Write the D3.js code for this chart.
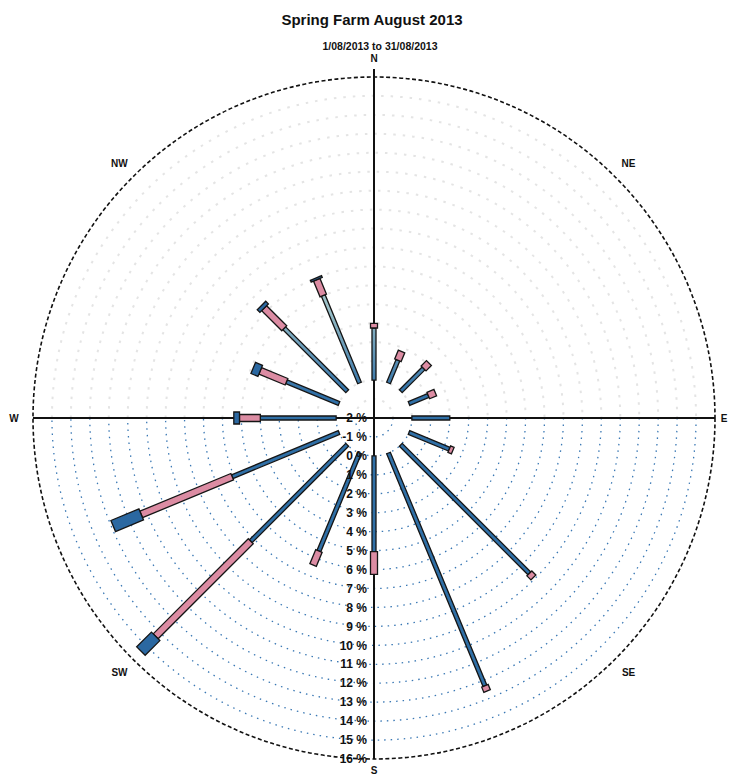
<!DOCTYPE html>
<html>
<head>
<meta charset="utf-8">
<script src="https://cdn.jsdelivr.net/npm/d3@7"></script>
<style>
  body { margin: 0; background: #fff; }
  text { font-family: "Liberation Sans", Arial, sans-serif; font-weight: bold; fill: #111; }
</style>
</head>
<body>
<svg></svg>
<script>
// wind directions, 22.5 degrees apart, clockwise from north
const directions = ["N", "NNE", "NE", "ENE", "E", "ESE", "SE", "SSE",
                    "S", "SSW", "SW", "WSW", "W", "WNW", "NW", "NNW"];
// frequency (%) of each speed class per direction
const speedClass1 = [2.75, 1.3, 1.7, 1.1, 2.0, 2.3, 9.6, 13.3, 5.05, 5.6, 7.2, 6.1, 4.0, 3.0, 4.7, 5.0];
const speedClass2 = [0.25, 0.5, 0.4, 0.4, 0, 0.2, 0.3, 0.3, 1.2, 0.8, 7.1, 5.2, 1.1, 1.5, 1.5, 0.9];
const speedClass3 = [0, 0, 0, 0, 0, 0, 0, 0, 0, 0, 1.1, 1.6, 0.3, 0.4, 0.2, 0.1];
const classNames = ["c1", "c2", "c3"];

const ringTicks = d3.range(-2, 17);           // -2 % .. 16 %
const compassLabels = ["N", "NE", "E", "SE", "S", "SW", "W", "NW"];

const svgWidth = 732;
const svgHeight = 780;
const cx = 374;
const cy = 418;
const outerR = 341;

const svg = d3.select("svg")
  .attr("width", svgWidth)
  .attr("height", svgHeight);

const rScale = d3.scaleLinear().domain([-2, 16]).range([0, outerR]);
const angle = d3.scalePoint().domain(directions).range([0, 337.5]);

const g = svg.append("g")
  .attr("transform", "translate(" + cx + "," + cy + ")");

// scanned colours fade towards the top of the page (coords are relative to g)
const grad = svg.append("defs").append("linearGradient")
  .attr("id", "fade")
  .attr("gradientUnits", "userSpaceOnUse")
  .attr("x1", 0).attr("y1", -110)
  .attr("x2", 0).attr("y2", -25);
grad.append("stop").attr("offset", 0).attr("stop-color", "#9cc1c8");
grad.append("stop").attr("offset", 1).attr("stop-color", "#2f6fa6");

const fills = { c1: "url(#fade)", c2: "#dc8ca3", c3: "#2b68a1" };
const widths = { c1: 4, c2: 7, c3: 12 };

svg.append("text")
  .attr("x", 372).attr("y", 25)
  .attr("text-anchor", "middle")
  .style("font-size", "15px")
  .text("Spring Farm August 2013");

svg.append("text")
  .attr("x", 380).attr("y", 50)
  .attr("text-anchor", "middle")
  .style("font-size", "10.5px")
  .text("1/08/2013 to 31/08/2013");

// grid rings: faded grey on top half, blue dots on bottom half
ringTicks.filter((d) => d > -2 && d < 16).forEach((t) => {
  const r = rScale(t);
  const up = d3.path();
  up.moveTo(-r, 0);
  up.arc(0, 0, r, Math.PI, 2 * Math.PI);
  g.append("path")
    .attr("d", up.toString())
    .attr("fill", "none")
    .attr("stroke", "#d2d2d2")
    .attr("stroke-width", 2)
    .attr("stroke-dasharray", "2.5 7")
    .attr("opacity", 0.6);
  const low = d3.path();
  low.moveTo(r, 0);
  low.arc(0, 0, r, 0, Math.PI);
  g.append("path")
    .attr("d", low.toString())
    .attr("fill", "none")
    .attr("stroke", "#3a78b4")
    .attr("stroke-width", 1.3)
    .attr("stroke-dasharray", "1.5 5");
});

g.append("circle")
  .attr("r", outerR)
  .attr("fill", "none")
  .attr("stroke", "#111")
  .attr("stroke-width", 1.6)
  .attr("stroke-dasharray", "4 2.5");

g.append("line")
  .attr("x1", 0).attr("x2", 0)
  .attr("y1", -outerR - 8).attr("y2", outerR)
  .attr("stroke", "#111").attr("stroke-width", 2);
g.append("line")
  .attr("x1", -outerR).attr("x2", outerR)
  .attr("y1", 0).attr("y2", 0)
  .attr("stroke", "#111").attr("stroke-width", 2);

// stacked bars
const rows = directions.map((d, i) => ({
  dir: d, c1: speedClass1[i], c2: speedClass2[i], c3: speedClass3[i]
}));
const stacked = d3.stack().keys(classNames)(rows);

function barPath(a, r0, r1, w) {
  const rad = (a * Math.PI) / 180;
  const ux = Math.sin(rad), uy = -Math.cos(rad);
  const px = -uy * w / 2, py = ux * w / 2;
  const p = d3.path();
  p.moveTo(ux * r0 + px, uy * r0 + py);
  p.lineTo(ux * r1 + px, uy * r1 + py);
  p.lineTo(ux * r1 - px, uy * r1 - py);
  p.lineTo(ux * r0 - px, uy * r0 - py);
  p.closePath();
  return p.toString();
}

stacked.forEach((layer) => {
  g.append("g")
    .selectAll("path")
    .data(layer.filter((d) => d[1] - d[0] > 0))
    .join("path")
    .attr("d", (d) => barPath(angle(d.data.dir), rScale(d[0]), rScale(d[1]), widths[layer.key]))
    .attr("fill", fills[layer.key])
    .attr("stroke", "#151515")
    .attr("stroke-width", 1.3)
    .attr("stroke-linejoin", "miter");
});

// percent labels down the south axis
g.append("g")
  .selectAll("text")
  .data(ringTicks)
  .join("text")
  .attr("x", -7)
  .attr("y", (d) => rScale(d))
  .attr("dy", "0.35em")
  .attr("text-anchor", "end")
  .style("font-size", "12px")
  .text((d) => d + " %");

// compass labels (E and S nudged inside the page edge)
g.append("g")
  .selectAll("text")
  .data(compassLabels)
  .join("text")
  .attr("x", (d, i) => Math.sin(i * Math.PI / 4) * (d === "E" ? 350 : 360))
  .attr("y", (d, i) => -Math.cos(i * Math.PI / 4) * (d === "S" ? 352 : 360))
  .attr("dy", "0.35em")
  .attr("text-anchor", "middle")
  .style("font-size", "10px")
  .text((d) => d);
</script>
</body>
</html>
